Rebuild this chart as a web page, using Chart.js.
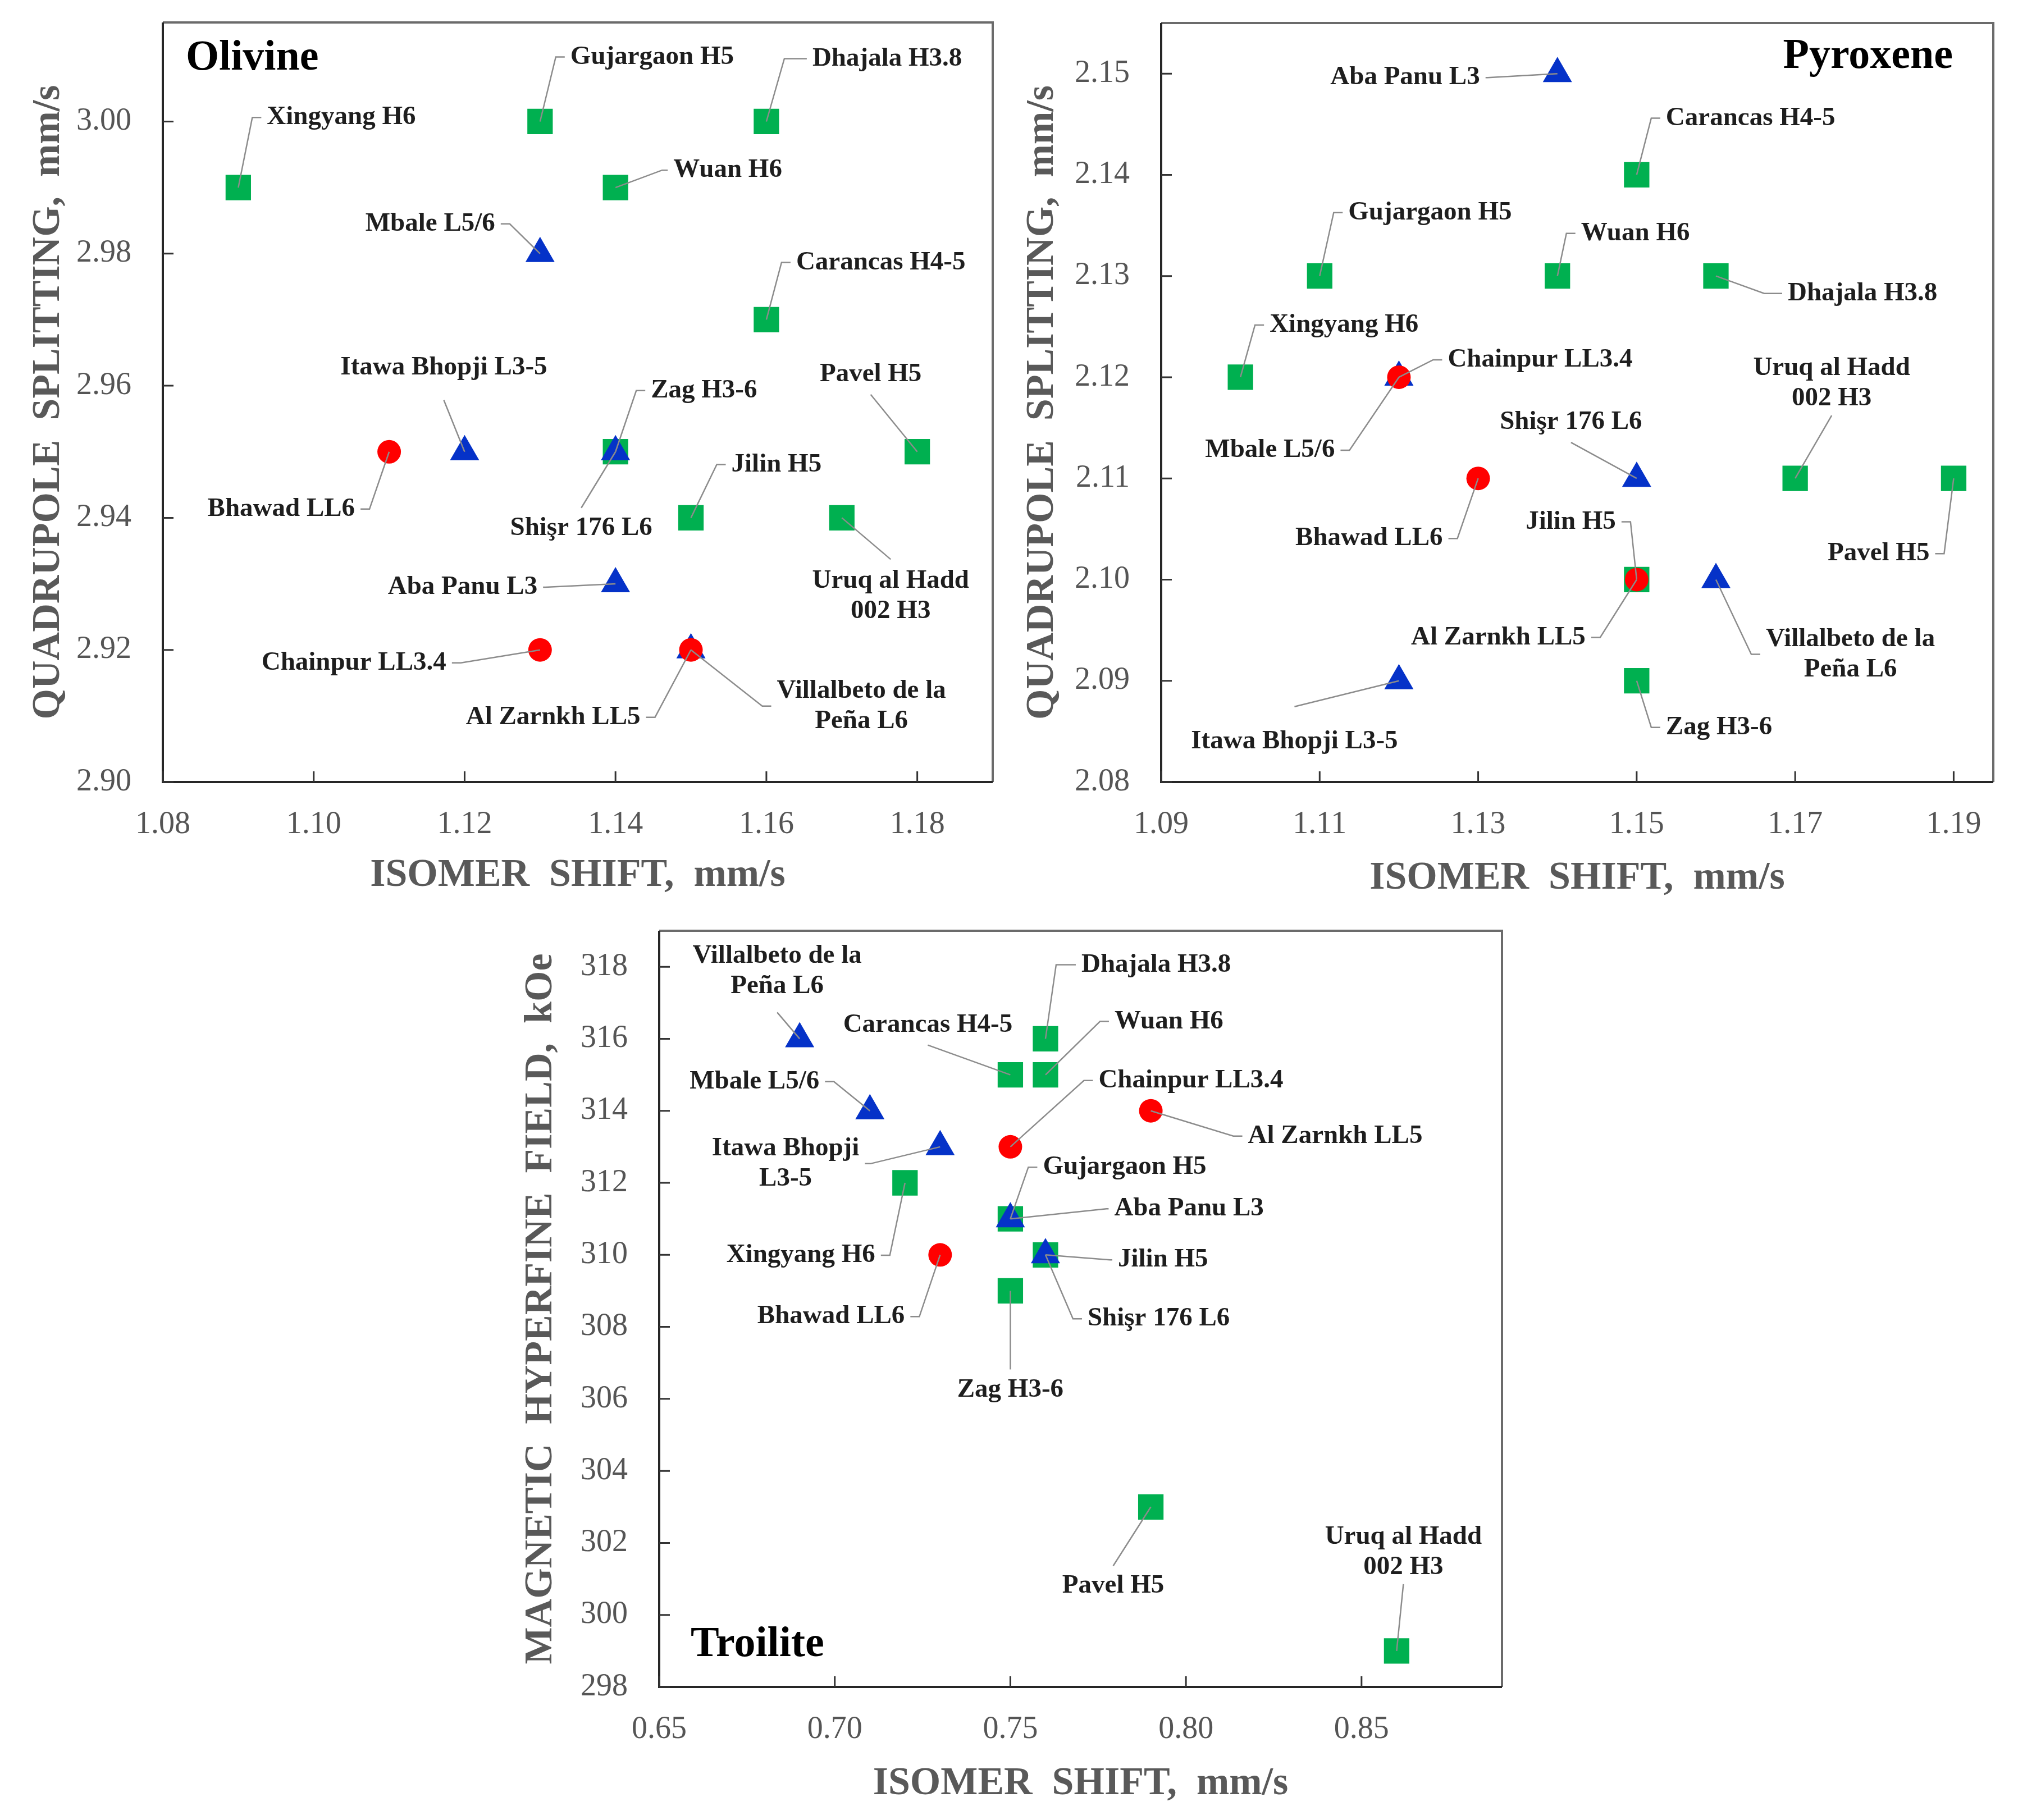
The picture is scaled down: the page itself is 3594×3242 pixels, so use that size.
<!DOCTYPE html>
<html>
<head>
<meta charset="utf-8">
<script src="https://cdn.jsdelivr.net/npm/chart.js@4.4.0/dist/chart.umd.min.js"></script>
<style>
  html, body { margin: 0; padding: 0; background: #fff; }
  body { width: 3594px; height: 3242px; position: relative; overflow: hidden; }
  .box { position: absolute; }
</style>
</head>
<body>
<div class="box" style="left:0;top:0;width:1800px;height:1620px"><canvas id="olivine"></canvas></div>
<div class="box" style="left:1800px;top:0;width:1794px;height:1620px"><canvas id="pyroxene"></canvas></div>
<div class="box" style="left:900px;top:1600px;width:1900px;height:1642px"><canvas id="troilite"></canvas></div>
<script>
// meteorites and their chondrite group
var meteorites = ['Xingyang H6', 'Gujargaon H5', 'Dhajala H3.8', 'Wuan H6', 'Carancas H4-5', 'Zag H3-6',
  'Pavel H5', 'Jilin H5', 'Uruq al Hadd 002 H3', 'Mbale L5/6', 'Itawa Bhopji L3-5', 'Shişr 176 L6',
  'Aba Panu L3', 'Villalbeto de la Peña L6', 'Bhawad LL6', 'Chainpur LL3.4', 'Al Zarnkh LL5'];
var groups = ['H', 'H', 'H', 'H', 'H', 'H', 'H', 'H', 'H', 'L', 'L', 'L', 'L', 'L', 'LL', 'LL', 'LL'];

// olivine: isomer shift / quadrupole splitting, mm/s
var olivineIS = [1.09, 1.13, 1.16, 1.14, 1.16, 1.14, 1.18, 1.15, 1.17, 1.13, 1.12, 1.14, 1.14, 1.15, 1.11, 1.13, 1.15];
var olivineQS = [2.99, 3.00, 3.00, 2.99, 2.97, 2.95, 2.95, 2.94, 2.94, 2.98, 2.95, 2.95, 2.93, 2.92, 2.95, 2.92, 2.92];
// pyroxene
var pyroxeneIS = [1.10, 1.11, 1.16, 1.14, 1.15, 1.15, 1.19, 1.15, 1.17, 1.12, 1.12, 1.15, 1.14, 1.16, 1.13, 1.12, 1.15];
var pyroxeneQS = [2.12, 2.13, 2.13, 2.13, 2.14, 2.09, 2.11, 2.10, 2.11, 2.12, 2.09, 2.11, 2.15, 2.10, 2.11, 2.12, 2.10];
// troilite: isomer shift, mm/s / magnetic hyperfine field, kOe
var troiliteIS = [0.72, 0.75, 0.76, 0.76, 0.75, 0.75, 0.79, 0.76, 0.86, 0.71, 0.73, 0.76, 0.75, 0.69, 0.73, 0.75, 0.79];
var troiliteH = [312, 311, 316, 315, 315, 309, 303, 310, 299, 314, 313, 310, 311, 316, 310, 313, 314];

// tick labels and axis ranges
var olivineXTicks = [1.08, 1.10, 1.12, 1.14, 1.16, 1.18];
var olivineYTicks = [2.90, 2.92, 2.94, 2.96, 2.98, 3.00];
var pyroxeneXTicks = [1.09, 1.11, 1.13, 1.15, 1.17, 1.19];
var pyroxeneYTicks = [2.08, 2.09, 2.10, 2.11, 2.12, 2.13, 2.14, 2.15];
var troiliteXTicks = [0.65, 0.70, 0.75, 0.80, 0.85];
var troiliteYTicks = [298, 300, 302, 304, 306, 308, 310, 312, 314, 316, 318];
var olivineXRange = [1.08, 1.19], olivineYRange = [2.90, 3.015];
var pyroxeneXRange = [1.09, 1.195], pyroxeneYRange = [2.08, 2.155];
var troiliteXRange = [0.65, 0.89], troiliteYRange = [298, 319];

var FONT = "'Liberation Serif', 'Times New Roman', serif";

// label placement: [dx, dy, side, gap, words on first line]
var olivineLabels = {
  'Xingyang H6': [25, -125, 'r'], 'Gujargaon H5': [28, -115, 'r'], 'Dhajala H3.8': [32, -112, 'r', 50],
  'Wuan H6': [83, -31, 'r', 20], 'Carancas H4-5': [27, -102, 'r'], 'Zag H3-6': [37, -109, 'r'],
  'Pavel H5': [-83, -102, 'a'], 'Jilin H5': [46, -95, 'r'], 'Uruq al Hadd 002 H3': [87, 74, 'b', 38, 3],
  'Mbale L5/6': [-54, -53, 'l'], 'Itawa Bhopji L3-5': [-37, -92, 'a', 58], 'Shişr 176 L6': [-61, 100, 'b'],
  'Aba Panu L3': [-125, 6, 'l', 14], 'Villalbeto de la Peña L6': [127, 100, 'r', 26, 3],
  'Bhawad LL6': [-35, 102, 'l'], 'Chainpur LL3.4': [-141, 23, 'l'], 'Al Zarnkh LL5': [-64, 120, 'l']
};
var pyroxeneLabels = {
  'Xingyang H6': [26, -93, 'r'], 'Gujargaon H5': [25, -113, 'r'], 'Dhajala H3.8': [86, 31, 'r', 42],
  'Wuan H6': [16, -76, 'r'], 'Carancas H4-5': [26, -101, 'r'], 'Zag H3-6': [26, 83, 'r'],
  'Pavel H5': [-17, 134, 'l'], 'Jilin H5': [-11, -103, 'l'], 'Uruq al Hadd 002 H3': [65, -112, 'a', 30, 3],
  'Mbale L5/6': [-88, 130, 'l'], 'Itawa Bhopji L3-5': [-186, 46, 'b', 62], 'Shişr 176 L6': [-117, -64, 'a'],
  'Aba Panu L3': [-124, 7, 'l', 14], 'Villalbeto de la Peña L6': [63, 133, 'r', 26, 3],
  'Bhawad LL6': [-37, 107, 'l'], 'Chainpur LL3.4': [61, -31, 'r'], 'Al Zarnkh LL5': [-65, 103, 'l']
};
var troiliteLabels = {
  'Xingyang H6': [-27, 129, 'l'], 'Gujargaon H5': [32, -92, 'r'], 'Dhajala H3.8': [19, -132, 'r', 45],
  'Wuan H6': [97, -95, 'r'], 'Carancas H4-5': [-147, -53, 'a'], 'Zag H3-6': [0, 140, 'b'],
  'Pavel H5': [-67, 105, 'b'], 'Jilin H5': [115, 9, 'r', 14], 'Uruq al Hadd 002 H3': [12, -119, 'a', 30, 3],
  'Mbale L5/6': [-64, -52, 'l'], 'Itawa Bhopji L3-5': [-124, 30, 'l', 20, 2], 'Shişr 176 L6': [49, 114, 'r'],
  'Aba Panu L3': [171, -18, 'r', 14], 'Villalbeto de la Peña L6': [-40, -47, 'a', 47, 3],
  'Bhawad LL6': [-37, 110, 'l'], 'Chainpur LL3.4': [131, -118, 'r'], 'Al Zarnkh LL5': [147, 45, 'r']
};

var markers = {
  LL: { style: 'circle', radius: 21, color: '#ff0000', order: 1 },
  L: { style: 'triangle', radius: 30, color: '#0532c8', order: 2 },
  H: { style: 'rect', radius: 32, color: '#00b050', order: 3 }
};

function buildDatasets(xs, ys) {
  return ['LL', 'L', 'H'].map(function(g) {
    var pts = [], names = [];
    meteorites.forEach(function(m, i) {
      if (groups[i] === g) { pts.push({ x: xs[i], y: ys[i] }); names.push(m); }
    });
    var mk = markers[g];
    return {
      label: g, data: pts, names: names, order: mk.order,
      pointStyle: mk.style, pointRadius: mk.radius, pointHoverRadius: mk.radius,
      backgroundColor: mk.color, borderColor: mk.color, pointBorderWidth: 0
    };
  });
}

// plot frame, inward tick marks and panel name
var frame = {
  id: 'frame',
  beforeDatasetsDraw: function(chart, args, opts) {
    var ctx = chart.ctx, a = chart.chartArea, sx = chart.scales.x, sy = chart.scales.y;
    ctx.save();
    ctx.lineWidth = 4;
    ctx.strokeStyle = '#6b6b6b';
    ctx.beginPath();
    ctx.moveTo(a.left, a.top); ctx.lineTo(a.right, a.top); ctx.lineTo(a.right, a.bottom);
    ctx.stroke();
    ctx.strokeStyle = '#262626';
    ctx.beginPath();
    ctx.moveTo(a.left, a.top); ctx.lineTo(a.left, a.bottom); ctx.lineTo(a.right, a.bottom);
    ctx.stroke();
    ctx.lineWidth = 3;
    ctx.strokeStyle = '#333';
    ctx.beginPath();
    sx.ticks.forEach(function(t) {
      var p = sx.getPixelForValue(t.value);
      ctx.moveTo(p, a.bottom); ctx.lineTo(p, a.bottom - 19);
    });
    sy.ticks.forEach(function(t) {
      var p = sy.getPixelForValue(t.value);
      ctx.moveTo(a.left, p); ctx.lineTo(a.left + 19, p);
    });
    ctx.stroke();
    ctx.font = 'bold 76px ' + FONT;
    ctx.fillStyle = '#000';
    ctx.textBaseline = 'alphabetic';
    if (opts.corner === 'tl') { ctx.textAlign = 'left'; ctx.fillText(opts.text, a.left + 41, a.top + 84); }
    if (opts.corner === 'tr') { ctx.textAlign = 'right'; ctx.fillText(opts.text, a.right - 72, a.top + 80); }
    if (opts.corner === 'bl') { ctx.textAlign = 'left'; ctx.fillText(opts.text, a.left + 56, a.bottom - 55); }
    ctx.restore();
  }
};

// labels with leader lines
var leaders = {
  id: 'leaders',
  afterDatasetsDraw: function(chart, args, opts) {
    var ctx = chart.ctx;
    ctx.save();
    ctx.font = 'bold 47px ' + FONT;
    ctx.textBaseline = 'middle';
    ctx.textAlign = 'center';
    chart.data.datasets.forEach(function(ds, di) {
      chart.getDatasetMeta(di).data.forEach(function(pt, j) {
        var name = ds.names[j], L = opts.layout[name];
        if (!L) return;
        var ex = pt.x + L[0], ey = pt.y + L[1], side = L[2];
        var words = name.split(' ');
        var lines = L[4] ? [words.slice(0, L[4]).join(' '), words.slice(L[4]).join(' ')] : [name];
        var lh = 54;
        ctx.strokeStyle = '#8c8c8c';
        ctx.lineWidth = 2.5;
        ctx.beginPath();
        ctx.moveTo(pt.x, pt.y);
        ctx.lineTo(ex, ey);
        ctx.fillStyle = '#1e1e1e';
        if (side === 'r' || side === 'l') {
          var gap = L[3] || 26, s = side === 'r' ? 1 : -1;
          ctx.lineTo(ex + s * Math.max(gap - 10, 0), ey);
          ctx.stroke();
          var w = Math.max.apply(null, lines.map(function(t) { return ctx.measureText(t).width; }));
          var cx = ex + s * (gap + w / 2);
          lines.forEach(function(t, k) { ctx.fillText(t, cx, ey + (k - (lines.length - 1) / 2) * lh); });
        } else {
          ctx.stroke();
          var g2 = L[3] || 36;
          lines.forEach(function(t, k) {
            var y = side === 'a' ? ey - g2 - (lines.length - 1 - k) * lh : ey + g2 + k * lh;
            ctx.fillText(t, ex, y);
          });
        }
      });
    });
    ctx.restore();
  }
};

function axis(range, ticks, digits, title, titlePad, labelPad, fit) {
  return {
    type: 'linear',
    min: range[0], max: range[1],
    grid: { display: false, drawTicks: false },
    border: { display: false },
    afterBuildTicks: function(s) { s.ticks = ticks.map(function(v) { return { value: v }; }); },
    afterFit: function(s) {
      fit(s);
      s.paddingTop = 0; s.paddingBottom = 0; s.paddingLeft = 0; s.paddingRight = 0;
    },
    ticks: {
      autoSkip: false, maxRotation: 0, padding: labelPad, color: '#555',
      font: { family: FONT, size: 56 },
      callback: function(v) { return Number(v).toFixed(digits); }
    },
    title: {
      display: true, text: title, color: '#595959', padding: titlePad,
      font: { family: FONT, size: 70, weight: 'bold', lineHeight: 1.2 }
    }
  };
}

function makeChart(id, xs, ys, labels, name, corner, g) {
  new Chart(document.getElementById(id), {
    type: 'scatter',
    data: { datasets: buildDatasets(xs, ys) },
    options: {
      responsive: true, maintainAspectRatio: false, animation: false,
      layout: { padding: { left: 0, top: g.top, right: g.right, bottom: 0 } },
      scales: {
        x: axis(g.xRange, g.xTicks, 2, 'ISOMER  SHIFT,  mm/s', { top: 0, bottom: g.xTitlePad }, 43,
          function(s) { s.height = g.xHeight; }),
        y: axis(g.yRange, g.yTicks, g.yDigits, g.yTitle, { top: g.yTitlePad, bottom: 0 }, 56,
          function(s) { s.width = g.yWidth; })
      },
      plugins: {
        legend: { display: false },
        tooltip: { enabled: false },
        frame: { text: name, corner: corner },
        leaders: { layout: labels }
      }
    },
    plugins: [frame, leaders]
  });
}

makeChart('olivine', olivineIS, olivineQS, olivineLabels, 'Olivine', 'tl', {
  top: 40, right: 17, yWidth: 290, xHeight: 227, xTitlePad: 18, yTitlePad: 45,
  xRange: olivineXRange, yRange: olivineYRange, xTicks: olivineXTicks, yTicks: olivineYTicks,
  yDigits: 2, yTitle: 'QUADRUPOLE  SPLITTING,  mm/s'
});
makeChart('pyroxene', pyroxeneIS, pyroxeneQS, pyroxeneLabels, 'Pyroxene', 'tr', {
  top: 41, right: 44, yWidth: 268, xHeight: 227, xTitlePad: 13, yTitlePad: 15,
  xRange: pyroxeneXRange, yRange: pyroxeneYRange, xTicks: pyroxeneXTicks, yTicks: pyroxeneYTicks,
  yDigits: 2, yTitle: 'QUADRUPOLE  SPLITTING,  mm/s'
});
makeChart('troilite', troiliteIS, troiliteH, troiliteLabels, 'Troilite', 'bl', {
  top: 58, right: 125, yWidth: 274, xHeight: 237, xTitlePad: 22, yTitlePad: 22,
  xRange: troiliteXRange, yRange: troiliteYRange, xTicks: troiliteXTicks, yTicks: troiliteYTicks,
  yDigits: 0, yTitle: 'MAGNETIC  HYPERFINE  FIELD,  kOe'
});
</script>
</body>
</html>
